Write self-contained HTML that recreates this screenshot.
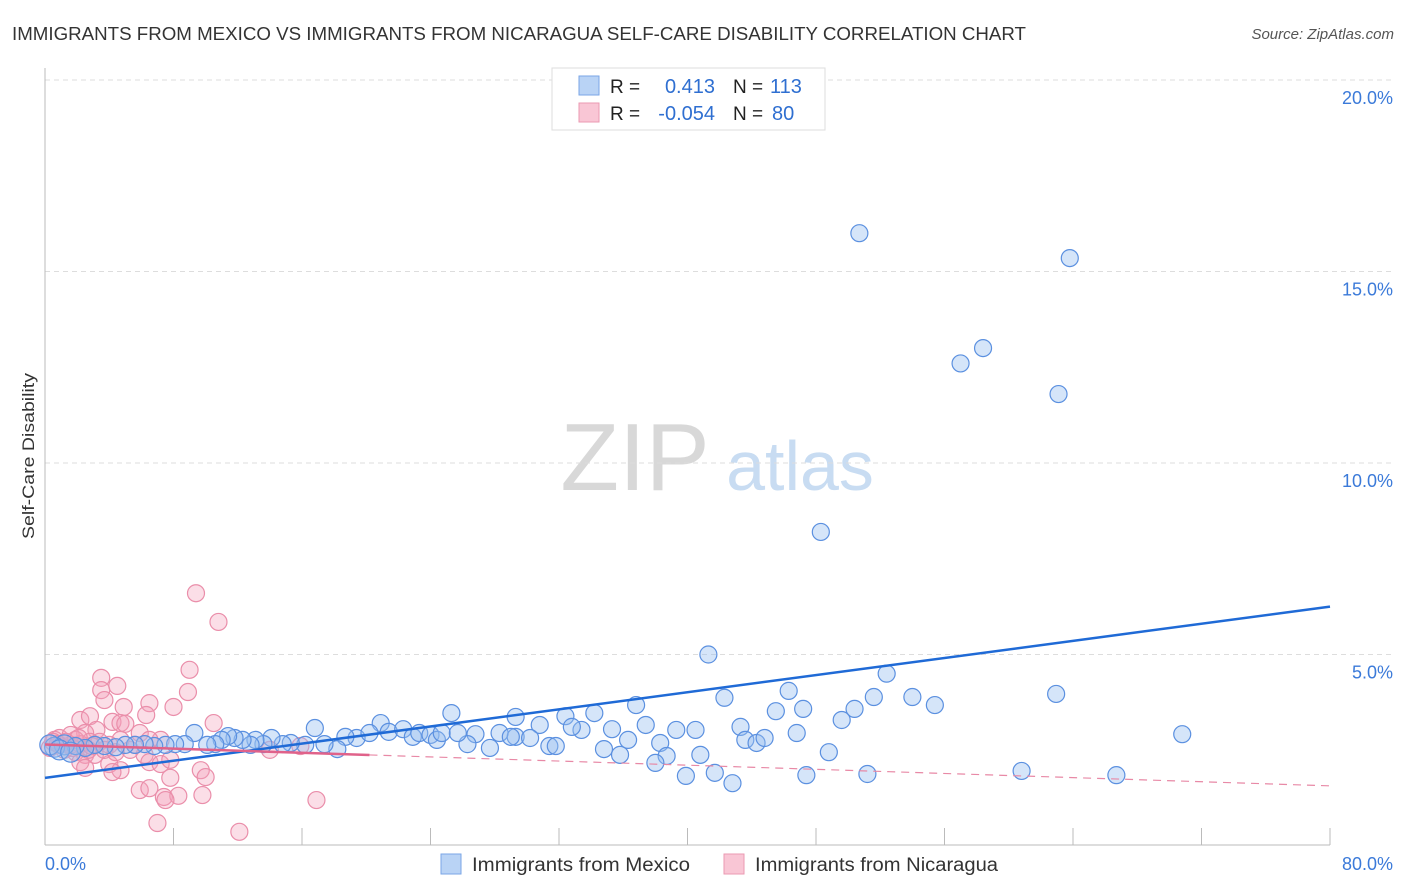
<!DOCTYPE html>
<html><head><meta charset="utf-8"><style>
body{margin:0;background:#fff;font-family:"Liberation Sans",sans-serif;}
#wrap{position:relative;width:1406px;height:892px;overflow:hidden;}
svg text{font-family:"Liberation Sans",sans-serif;}
</style></head><body>
<div id="wrap">
<svg id="chart" width="1406" height="892" xmlns="http://www.w3.org/2000/svg">
<text x="12" y="40" font-size="18" fill="#333" textLength="1014" lengthAdjust="spacingAndGlyphs">IMMIGRANTS FROM MEXICO VS IMMIGRANTS FROM NICARAGUA SELF-CARE DISABILITY CORRELATION CHART</text>
<text x="1394" y="39" font-size="15" fill="#555" font-style="italic" text-anchor="end">Source: ZipAtlas.com</text>
<text transform="translate(34,456) rotate(-90)" font-size="17" fill="#333" text-anchor="middle" textLength="166" lengthAdjust="spacingAndGlyphs">Self-Care Disability</text>
<g>
<text x="635" y="490" font-size="96" font-family="Liberation Serif" fill="#d8d8d8" text-anchor="middle">ZIP</text>
<text x="800" y="490" font-size="70" fill="#c8dcf2" text-anchor="middle">atlas</text>
</g>
<g id="grid"></g><g id="axes"></g><g id="pts"></g><g id="trends"></g>
<g>
<rect x="552" y="68" width="273" height="62" fill="#fff" stroke="#ddd"/>
<rect x="579" y="76" width="20" height="19" fill="#b9d3f5" stroke="#7aa6e6"/>
<rect x="579" y="103" width="20" height="19" fill="#f9c6d5" stroke="#eb9ab2"/>
<text x="610" y="93" font-size="19" fill="#222">R =</text><text x="715" y="93" font-size="20" fill="#2f6fd1" text-anchor="end">0.413</text>
<text x="733" y="93" font-size="19" fill="#222">N =</text><text x="770" y="93" font-size="20" fill="#2f6fd1">113</text>
<text x="610" y="120" font-size="19" fill="#222">R =</text><text x="715" y="120" font-size="20" fill="#2f6fd1" text-anchor="end">-0.054</text>
<text x="733" y="120" font-size="19" fill="#222">N =</text><text x="772" y="120" font-size="20" fill="#2f6fd1">80</text>
</g>
<g>
<rect x="441" y="854" width="20" height="20" fill="#b9d3f5" stroke="#7aa6e6"/>
<text x="472" y="871" font-size="19" fill="#333" textLength="218" lengthAdjust="spacingAndGlyphs">Immigrants from Mexico</text>
<rect x="724" y="854" width="20" height="20" fill="#f9c6d5" stroke="#eb9ab2"/>
<text x="755" y="871" font-size="19" fill="#333" textLength="243" lengthAdjust="spacingAndGlyphs">Immigrants from Nicaragua</text>
</g>
</svg></div>
<script>
const NS="http://www.w3.org/2000/svg";
const yTicks=[5,10,15,20];
const yTickLabels=["5.0%","10.0%","15.0%","20.0%"];
const xTickLabels=["0.0%","80.0%"];
const mexX=[50.7,63.8,57.0,58.4,63.1,48.3,41.3,52.4,42.3,46.3,62.95,54.0,51.6,55.4,47.2,45.5,50.4,49.6,36.8,25.3,29.3,32.4,34.2,70.8,46.8,43.3,40.5,39.3,37.4,35.3,33.4,32.8,30.8,29.3,28.3,26.8,26.3,27.7,29.0,30.2,31.4,31.8,34.8,35.8,36.3,38.3,38.7,38.0,40.8,43.6,44.3,44.8,48.8,39.9,41.7,42.8,47.4,51.2,60.8,66.7,20.9,19.4,20.2,21.4,22.3,22.9,23.3,24.0,24.4,24.7,25.7,16.8,18.7,18.2,17.4,16.2,15.3,14.8,14.1,13.6,13.1,12.8,12.3,11.8,11.4,11.0,10.6,10.1,9.3,8.7,8.1,7.5,6.8,6.2,5.6,5.0,4.4,3.7,3.1,2.5,1.9,1.2,0.6,0.3,0.9,1.6];
const mexY=[16.0,15.35,12.6,13.0,11.8,8.2,5.0,4.5,3.87,4.05,3.97,3.89,3.89,3.68,3.58,3.52,3.58,3.29,3.68,3.47,3.37,3.39,3.47,2.92,2.95,3.11,3.03,3.03,3.16,3.05,3.03,3.11,3.16,2.85,2.95,2.92,2.66,2.56,2.85,2.82,2.61,2.61,2.53,2.38,2.77,2.69,2.35,2.17,2.38,2.77,2.69,2.82,2.45,1.83,1.91,1.64,1.85,1.88,1.96,1.85,3.21,2.82,2.95,2.98,3.05,2.85,2.95,2.90,2.77,2.95,2.95,3.08,2.85,2.53,2.66,2.64,2.69,2.66,2.82,2.66,2.77,2.64,2.77,2.82,2.87,2.77,2.66,2.64,2.95,2.66,2.66,2.64,2.61,2.66,2.64,2.64,2.58,2.61,2.64,2.56,2.61,2.64,2.58,2.64,2.51,2.45];
const nicX=[9.4,10.8,9.0,3.5,3.5,3.7,8.9,4.5,6.5,4.9,8.0,6.3,10.5,2.2,2.8,4.2,4.7,5.0,3.2,2.5,5.9,7.2,6.5,4.7,4.0,3.4,2.8,2.2,1.6,0.9,0.6,0.3,1.2,1.9,2.5,3.1,5.3,6.2,6.5,7.2,7.8,2.2,2.5,4.0,4.7,4.2,9.7,10.0,5.9,6.5,7.8,7.4,8.3,9.8,7.5,16.9,7.0,12.1,0.9,1.6,1.9,0.5,0.8,1.3,1.7,2.7,2.9,3.7,5.6,15.9,14.0,4.4,2.1];
const nicY=[6.6,5.85,4.6,4.39,4.07,3.81,4.02,4.18,3.73,3.63,3.63,3.42,3.21,3.29,3.39,3.24,3.21,3.19,3.03,2.95,2.95,2.77,2.77,2.77,2.64,2.72,2.72,2.66,2.64,2.64,2.77,2.56,2.51,2.45,2.38,2.38,2.51,2.38,2.19,2.14,2.25,2.19,2.04,2.14,1.98,1.93,1.98,1.80,1.46,1.51,1.78,1.28,1.31,1.33,1.20,1.20,0.60,0.37,2.82,2.90,2.77,2.72,2.66,2.72,2.56,2.51,2.61,2.51,2.64,2.61,2.51,2.45,2.82];
const mexTrend=[1.78,6.25];
const nicTrend=[2.65,1.57];
const X=v=>45+v*(1330-45)/80;
const Y=v=>846-v*38.3;
function mk(tag,attrs,parent){const e=document.createElementNS(NS,tag);for(const k in attrs)e.setAttribute(k,attrs[k]);parent.appendChild(e);return e;}
const grid=document.getElementById('grid'),axes=document.getElementById('axes'),pts=document.getElementById('pts'),tr=document.getElementById('trends');
yTicks.forEach((t,i)=>{
 const l=mk('line',{x1:45,x2:1394,y1:Y(t),y2:Y(t),stroke:'#ddd','stroke-dasharray':'5,4'},grid);
 
 
 const tx=mk('text',{x:1393,y:Y(t)+24,'font-size':18,fill:'#3b7ad9','text-anchor':'end'},grid);
 tx.textContent=yTickLabels[i];
 
 
});
mk('line',{x1:45,x2:45,y1:68,y2:845,stroke:'#bbb'},axes);
mk('line',{x1:45,x2:1330,y1:845,y2:845,stroke:'#bbb'},axes);
for(let v=8;v<=80;v+=8){const t=mk('line',{x1:X(v),x2:X(v),y1:828,y2:845,stroke:'#bbb'},axes);
 
 }
const xl0=mk('text',{x:45,y:870,'font-size':18,fill:'#3b7ad9'},axes);xl0.textContent=xTickLabels[0];


const xl1=mk('text',{x:1393,y:870,'font-size':18,fill:'#3b7ad9','text-anchor':'end'},axes);xl1.textContent=xTickLabels[1];


nicX.forEach((x,i)=>{const c=mk('circle',{cx:X(x),cy:Y(nicY[i]),r:8.5,fill:'rgba(244,160,185,0.35)',stroke:'#ea8eaa','stroke-width':1.2},pts);
 
 });
mexX.forEach((x,i)=>{const c=mk('circle',{cx:X(x),cy:Y(mexY[i]),r:(i>=101?10:8.5),fill:'rgba(150,190,240,0.4)',stroke:'#5b90e0','stroke-width':1.2},pts);
 
 });
const ml=mk('line',{x1:X(0),y1:Y(mexTrend[0]),x2:X(80),y2:Y(mexTrend[1]),stroke:'#1f6ad6','stroke-width':2.5},tr);


const nAt=v=>nicTrend[0]+(nicTrend[1]-nicTrend[0])*v/80;
const nl=mk('line',{x1:X(0),y1:Y(nAt(0)),x2:X(20.2),y2:Y(nAt(20.2)),stroke:'#e0628a','stroke-width':2.5},tr);


const nd=mk('line',{x1:X(20.2),y1:Y(nAt(20.2)),x2:X(80),y2:Y(nAt(80)),stroke:'#e889a6','stroke-width':1.2,'stroke-dasharray':'8,6'},tr);


</script>
</body></html>
